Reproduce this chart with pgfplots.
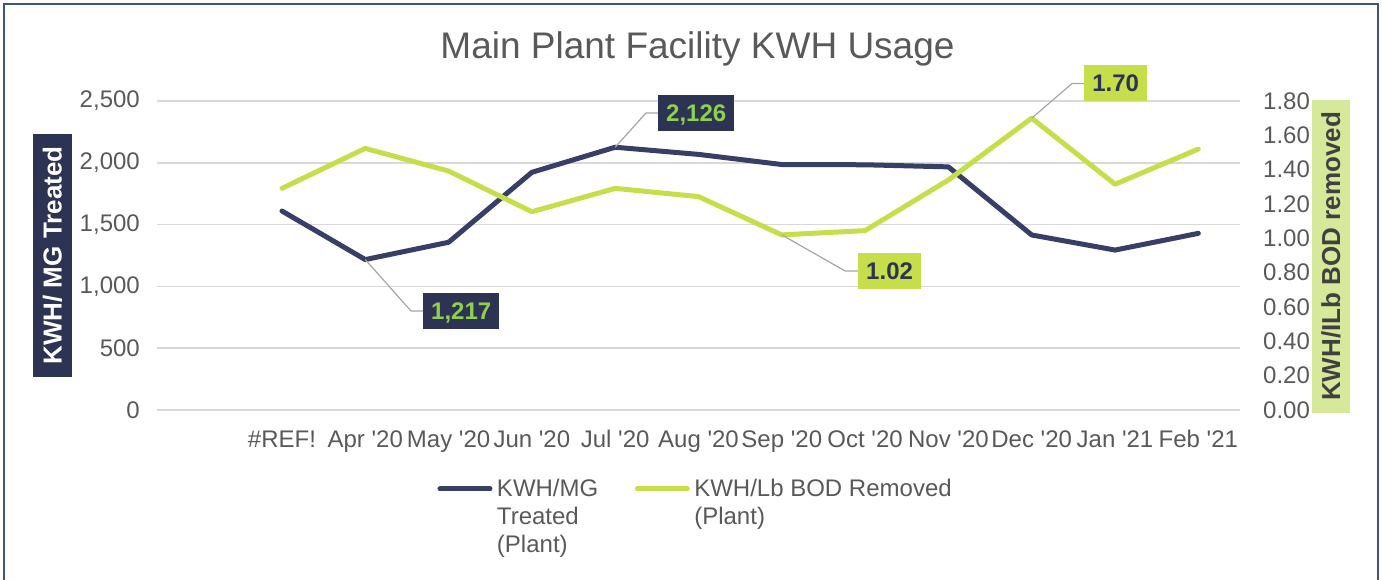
\documentclass[border=0pt]{standalone}
\usepackage{pgfplots}
\pgfplotsset{compat=1.18}
\usepackage{fontspec}
\setmainfont{Liberation Sans}
\definecolor{navyline}{HTML}{373F66}
\definecolor{navybox}{HTML}{2D3352}
\definecolor{limeline}{HTML}{C5DF4B}
\definecolor{limebox}{HTML}{C5DE4A}
\definecolor{limelabel}{HTML}{D6E99A}
\definecolor{lbltext}{HTML}{8FD14F}
\definecolor{txt}{HTML}{595959}
\definecolor{gridc}{HTML}{D9D9D9}
\definecolor{framec}{HTML}{44527F}
\definecolor{leader}{HTML}{A6A6A6}
\newcommand\q{\textquotesingle}
\begin{document}
\begin{tikzpicture}[x=1pt,y=1pt]
\useasboundingbox (0,0) rectangle (1382,579);
\draw[framec, line width=1.5pt] (4,-5) -- (4,575) -- (1378,575) -- (1378,-5);
\node[anchor=base, text=txt, font=\fontsize{37}{44}\selectfont, inner sep=0pt] at (697.5,520) {Main Plant Facility KWH Usage};
\pgfplotsset{common/.style={scale only axis, width=1083pt, height=309pt,
  at={(157pt,169pt)}, anchor=south west, xmin=-0.5, xmax=12.5, clip=false,
  axis line style={draw=none}, major tick length=0pt,
  tick label style={font=\fontsize{24}{28}\selectfont, text=txt},
  /pgf/number format/assume math mode=true}}
\begin{axis}[common, ymin=0, ymax=2500, ytick={0,500,1000,1500,2000,2500},
  ymajorgrids, grid style={gridc, line width=1.6pt},
  /pgf/number format/.cd, 1000 sep={,}, /pgfplots/.cd,
  xtick={1,2,3,4,5,6,7,8,9,10,11,12},
  xticklabels={\#REF!, Apr \q20, May \q20, Jun \q20, Jul \q20, Aug \q20, Sep \q20, Oct \q20, Nov \q20, Dec \q20, Jan \q21, Feb \q21},
  xticklabel style={anchor=base, inner sep=0pt, yshift=-37pt},
  yticklabel style={anchor=east, inner sep=0pt, xshift=-17pt},
  ylabel={KWH/ MG Treated},
  ylabel style={at={(axis description cs:-0.0965,0.5)}, anchor=center, fill=navybox, text=white,
    font=\bfseries\fontsize{26}{30}\selectfont, minimum width=242pt, minimum height=39pt, inner sep=0pt},
  legend columns=2,
  legend image code/.code={\draw[#1, line cap=round] (0pt,8pt) -- (50pt,8pt);},
  legend style={at={(axis description cs:0.259,-0.2181)}, anchor=north west, draw=none, fill=none,
    inner sep=0pt, outer sep=0pt, font=\fontsize{24}{28}\selectfont, text=txt, column sep=4.5pt,
    nodes={inner sep=0pt, anchor=base west},
    /tikz/every even column/.append style={column sep=36.5pt}},
]
\addplot[navyline, line width=5pt, line cap=round, line join=round] coordinates {
(1,1610) (2,1217) (3,1357) (4,1923) (5,2126) (6,2068) (7,1986) (8,1984) (9,1967) (10,1416) (11,1294) (12,1429)};
\addlegendentry{\begin{tabular}[t]{@{}l@{}}KWH/MG\\Treated\\(Plant)\end{tabular}}
\addlegendimage{limeline, line width=5pt}
\addlegendentry{\begin{tabular}[t]{@{}l@{}}KWH/Lb BOD Removed\\(Plant)\end{tabular}}
\draw[leader, line width=1.2pt] (axis cs:2,1217) -- (axis cs:2.549,801) -- (axis cs:2.693,801);
\node[fill=navybox, text=lbltext, font=\bfseries\fontsize{24}{28}\selectfont, anchor=west, minimum height=36pt, inner xsep=8pt, inner ysep=0pt, text height=17pt, text depth=0pt] at (axis cs:2.693,801) {1,217};
\draw[leader, line width=1.2pt] (axis cs:5,2126) -- (axis cs:5.370,2403) -- (axis cs:5.514,2403);
\node[fill=navybox, text=lbltext, font=\bfseries\fontsize{24}{28}\selectfont, anchor=west, minimum height=36pt, inner xsep=8pt, inner ysep=0pt, text height=17pt, text depth=0pt] at (axis cs:5.514,2403) {2,126};
\end{axis}
\begin{axis}[common, ymin=0, ymax=1.8, axis x line=none, axis y line*=right,
  ytick={0,0.2,0.4,0.6,0.8,1.0,1.2,1.4,1.6,1.8},
  yticklabel style={anchor=west, inner sep=0pt, xshift=23pt, /pgf/number format/.cd, fixed, fixed zerofill, precision=2},
  ylabel={KWH/ILb BOD removed},
  ylabel style={at={(axis description cs:1.084,0.497)}, anchor=center, fill=limelabel, text=black!75,
    font=\bfseries\fontsize{26}{30}\selectfont, minimum width=313pt, minimum height=38pt, inner sep=0pt},
]
\addplot[limeline, line width=5pt, line cap=round, line join=round] coordinates {
(1,1.291) (2,1.524) (3,1.392) (4,1.155) (5,1.291) (6,1.243) (7,1.02) (8,1.045) (9,1.34) (10,1.70) (11,1.315) (12,1.52)};
\draw[leader, line width=1.2pt] (axis cs:7,1.02) -- (axis cs:7.759,0.810) -- (axis cs:7.915,0.810);
\node[fill=limebox, text=navybox, font=\bfseries\fontsize{24}{28}\selectfont, anchor=west, minimum height=36pt, inner xsep=8pt, inner ysep=0pt, text height=17pt, text depth=0pt] at (axis cs:7.915,0.810) {1.02};
\draw[leader, line width=1.2pt] (axis cs:10,1.70) -- (axis cs:10.484,1.902) -- (axis cs:10.629,1.902);
\node[fill=limebox, text=navybox, font=\bfseries\fontsize{24}{28}\selectfont, anchor=west, minimum height=36pt, inner xsep=8pt, inner ysep=0pt, text height=17pt, text depth=0pt] at (axis cs:10.629,1.902) {1.70};
\end{axis}
\end{tikzpicture}
\end{document}
